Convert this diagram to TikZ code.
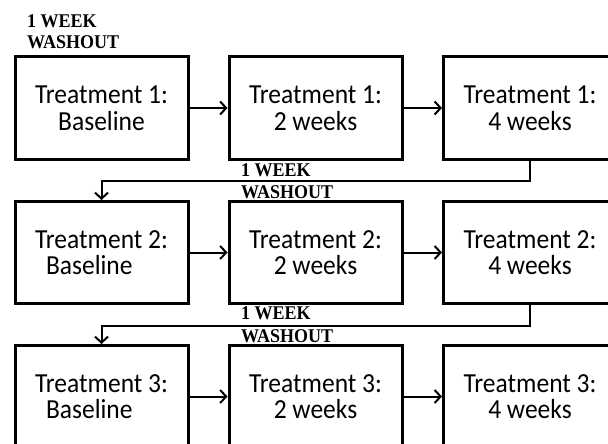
\documentclass[tikz,border=0pt]{standalone}
\usepackage{fontspec}
\usepackage{graphicx}
\setmainfont{Carlito}
\newfontfamily\labfont{Liberation Serif}
\usetikzlibrary{arrows.meta}
\newcommand\vst[1]{\scalebox{1}[1.08]{#1}}
\begin{document}
\begin{tikzpicture}[x=1pt,y=-1pt,
  box/.style={draw,line width=3pt,minimum width=173pt,minimum height=102pt,inner sep=0pt,align=center,font=\fontsize{25.5}{26.5}\selectfont},
  boxl/.style={box,align=left},
  lab/.style={anchor=base west,inner sep=0pt,font=\labfont\bfseries\fontsize{18}{20}\selectfont},
  conn/.style={line width=2pt,-{Straight Barb[length=6pt,width=13pt,line width=2pt]}}]
\clip (0,0) rectangle (608,444);
\fill[white] (0,0) rectangle (608,444);
% row 1
\node[box] (a1) at (101.5,108) {\vst{Treatment 1:}\\\vst{Baseline}};
\node[box] (a2) at (315.5,108) {\vst{Treatment 1:}\\\vst{2 weeks}};
\node[box] (a3) at (530,108) {\vst{Treatment 1:}\\\vst{4 weeks}};
% row 2
\node[boxl] (b1) at (101.5,252.5) {\vst{Treatment 2:}\\\hspace*{11pt}\vst{Baseline}};
\node[box] (b2) at (315.5,252.5) {\vst{Treatment 2:}\\\vst{2 weeks}};
\node[box] (b3) at (530,252.5) {\vst{Treatment 2:}\\\vst{4 weeks}};
% row 3
\node[boxl] (c1) at (101.5,396.5) {\vst{Treatment 3:}\\\hspace*{11pt}\vst{Baseline}};
\node[box] (c2) at (315.5,396.5) {\vst{Treatment 3:}\\\vst{2 weeks}};
\node[box] (c3) at (530,396.5) {\vst{Treatment 3:}\\\vst{4 weeks}};
% arrows
\draw[conn] (a1) -- (a2);
\draw[conn] (a2) -- (a3);
\draw[conn] (b1) -- (b2);
\draw[conn] (b2) -- (b3);
\draw[conn] (c1) -- (c2);
\draw[conn] (c2) -- (c3);
\coordinate (w1) at (530,181);
\coordinate (w2) at (530,326);
\draw[conn] (a3.south) -- (w1) -| (b1.north);
\draw[conn] (b3.south) -- (w2) -| (c1.north);
% labels
\node[lab] (l1a) at (27,28) {\vst{1 WEEK}};
\node[lab] (l1b) at (27,49) {\vst{WASHOUT}};
\node[lab] (l2a) at (241,176) {\vst{1 WEEK}};
\node[lab] (l2b) at (241,198) {\vst{WASHOUT}};
\node[lab] (l3a) at (241,319) {\vst{1 WEEK}};
\node[lab] (l3b) at (241,342) {\vst{WASHOUT}};
\end{tikzpicture}
\end{document}
